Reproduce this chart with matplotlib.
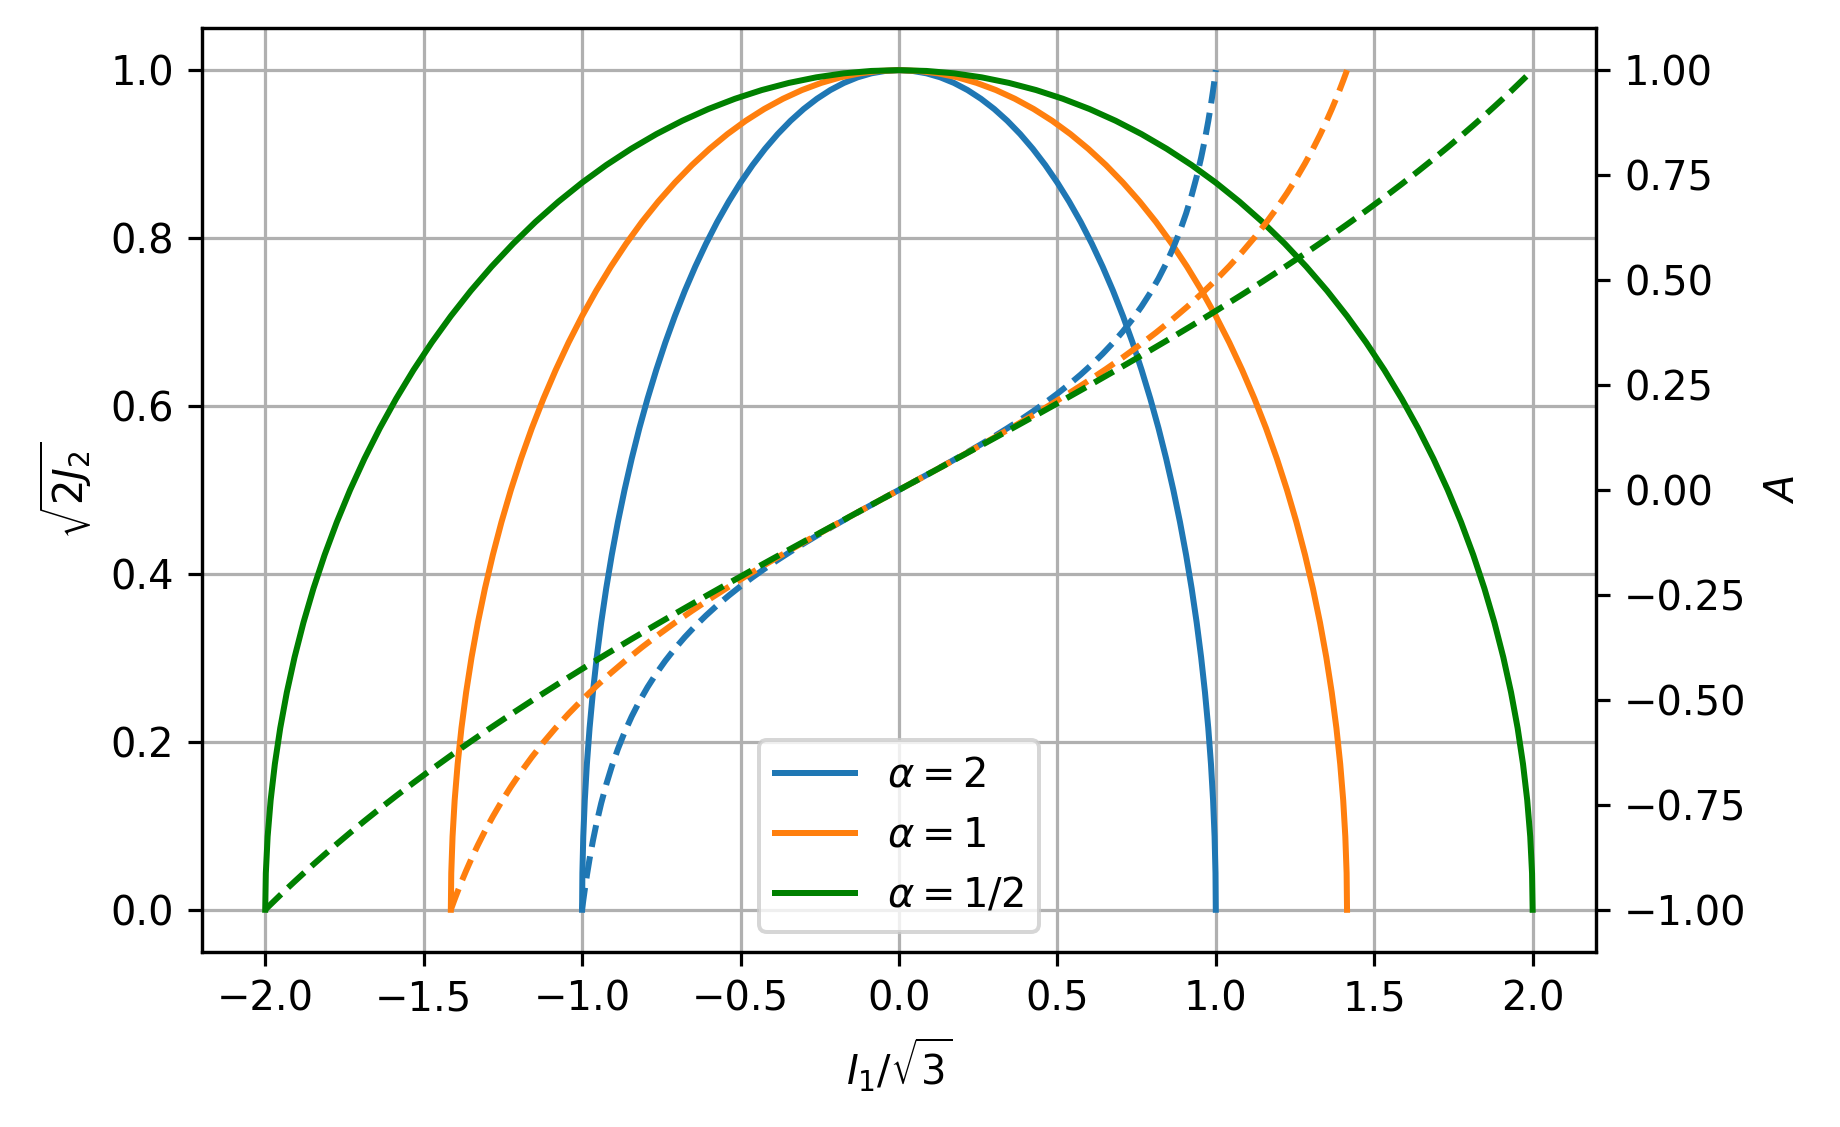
import matplotlib
matplotlib.use("Agg")
from matplotlib import pyplot as plt

alphas = ["2", "1", "1/2"]
colors = ["tab:blue", "tab:orange", "green"]

# sqrt(2 J2) at the sample points (same for every curve)
j2_vals = [0.0, 0.04362, 0.0872, 0.13053, 0.1736, 0.21644, 0.2588, 0.30071, 0.3420,
           0.38268, 0.4226, 0.46175, 0.5000, 0.53730, 0.5736, 0.60876, 0.6428, 0.67559,
           0.7071, 0.73728, 0.7660, 0.79335, 0.8192, 0.84339, 0.8660, 0.88701, 0.9063,
           0.92388, 0.9397, 0.95372, 0.9659, 0.97630, 0.9848, 0.99144, 0.9962, 0.99905,
           1.0,
           0.99905, 0.9962, 0.99144, 0.9848, 0.97630, 0.9659, 0.95372, 0.9397, 0.92388,
           0.9063, 0.88701, 0.8660, 0.84339, 0.8192, 0.79335, 0.7660, 0.73728, 0.7071,
           0.67559, 0.6428, 0.60876, 0.5736, 0.53730, 0.5000, 0.46175, 0.4226, 0.38268,
           0.3420, 0.30071, 0.2588, 0.21644, 0.1736, 0.13053, 0.0872, 0.04362, 0.0]

# I1/sqrt(3)
i1_a2 = [-1.0000, -0.99905, -0.9962, -0.99144, -0.9848, -0.97630, -0.9659, -0.95372, -0.9397,
         -0.92388, -0.9063, -0.88701, -0.8660, -0.84339, -0.8192, -0.79335, -0.7660, -0.73728,
         -0.7071, -0.67559, -0.6428, -0.60876, -0.5736, -0.53730, -0.5000, -0.46175, -0.4226,
         -0.38268, -0.3420, -0.30071, -0.2588, -0.21644, -0.1736, -0.13053, -0.0872, -0.04362,
         0.0,
         0.04362, 0.0872, 0.13053, 0.1736, 0.21644, 0.2588, 0.30071, 0.3420, 0.38268,
         0.4226, 0.46175, 0.5000, 0.53730, 0.5736, 0.60876, 0.6428, 0.67559, 0.7071,
         0.73728, 0.7660, 0.79335, 0.8192, 0.84339, 0.8660, 0.88701, 0.9063, 0.92388,
         0.9397, 0.95372, 0.9659, 0.97630, 0.9848, 0.99144, 0.9962, 0.99905, 1.0000]
i1_a1 = [-1.4142, -1.41287, -1.4088, -1.40211, -1.3927, -1.38069, -1.3660, -1.34876, -1.3289,
         -1.30656, -1.2817, -1.25442, -1.2247, -1.19273, -1.1585, -1.12197, -1.0833, -1.04267,
         -1.0000, -0.95543, -0.9091, -0.86092, -0.8112, -0.75986, -0.7071, -0.65301, -0.5976,
         -0.54119, -0.4837, -0.42527, -0.3660, -0.30609, -0.2455, -0.18460, -0.1233, -0.06169,
         0.0,
         0.06169, 0.1233, 0.18460, 0.2455, 0.30609, 0.3660, 0.42527, 0.4837, 0.54119,
         0.5976, 0.65301, 0.7071, 0.75986, 0.8112, 0.86092, 0.9091, 0.95543, 1.0000,
         1.04267, 1.0833, 1.12197, 1.1585, 1.19273, 1.2247, 1.25442, 1.2817, 1.30656,
         1.3289, 1.34876, 1.3660, 1.38069, 1.3927, 1.40211, 1.4088, 1.41287, 1.4142]
i1_a05 = [-2.0000, -1.99810, -1.9924, -1.98288, -1.9696, -1.95260, -1.9319, -1.90744, -1.8794,
          -1.84776, -1.8126, -1.77402, -1.7321, -1.68678, -1.6383, -1.58670, -1.5321, -1.47456,
          -1.4142, -1.35118, -1.2856, -1.21752, -1.1472, -1.07460, -1.0000, -0.92350, -0.8452,
          -0.76536, -0.6840, -0.60142, -0.5176, -0.43288, -0.3473, -0.26106, -0.1743, -0.08724,
          0.0,
          0.08724, 0.1743, 0.26106, 0.3473, 0.43288, 0.5176, 0.60142, 0.6840, 0.76536,
          0.8452, 0.92350, 1.0000, 1.07460, 1.1472, 1.21752, 1.2856, 1.35118, 1.4142,
          1.47456, 1.5321, 1.58670, 1.6383, 1.68678, 1.7321, 1.77402, 1.8126, 1.84776,
          1.8794, 1.90744, 1.9319, 1.95260, 1.9696, 1.98288, 1.9924, 1.99810, 2.0000]

# A (right axis, dashed)
A_a2 = [-1.0000, -0.99433, -0.9778, -0.95174, -0.9180, -0.87879, -0.8360, -0.79144, -0.7464,
        -0.70196, -0.6587, -0.61710, -0.5774, -0.53954, -0.5037, -0.46970, -0.4375, -0.40696,
        -0.3780, -0.35038, -0.3241, -0.29894, -0.2748, -0.25171, -0.2294, -0.20788, -0.1870,
        -0.16674, -0.1470, -0.12767, -0.1087, -0.09014, -0.0718, -0.05367, -0.0357, -0.01782,
        0.0,
        0.01782, 0.0357, 0.05367, 0.0718, 0.09014, 0.1087, 0.12767, 0.1470, 0.16674,
        0.1870, 0.20788, 0.2294, 0.25171, 0.2748, 0.29894, 0.3241, 0.35038, 0.3780,
        0.40696, 0.4375, 0.46970, 0.5037, 0.53954, 0.5774, 0.61710, 0.6587, 0.70196,
        0.7464, 0.79144, 0.8360, 0.87879, 0.9180, 0.95174, 0.9778, 0.99433, 1.0000]
A_a1 = [-1.0000, -0.99715, -0.9887, -0.97497, -0.9564, -0.93354, -0.9071, -0.87765, -0.8459,
        -0.81252, -0.7780, -0.74269, -0.7071, -0.67152, -0.6362, -0.60124, -0.5668, -0.53308,
        -0.5000, -0.46763, -0.4360, -0.40505, -0.3748, -0.34520, -0.3162, -0.28783, -0.2600,
        -0.23259, -0.2056, -0.17909, -0.1529, -0.12696, -0.1013, -0.07579, -0.0504, -0.02520,
        0.0,
        0.02520, 0.0504, 0.07579, 0.1013, 0.12696, 0.1529, 0.17909, 0.2056, 0.23259,
        0.2600, 0.28783, 0.3162, 0.34520, 0.3748, 0.40505, 0.4360, 0.46763, 0.5000,
        0.53308, 0.5668, 0.60124, 0.6362, 0.67152, 0.7071, 0.74269, 0.7780, 0.81252,
        0.8459, 0.87765, 0.9071, 0.93354, 0.9564, 0.97497, 0.9887, 0.99715, 1.0000]
A_a05 = [-1.0000, -0.99857, -0.9943, -0.98725, -0.9775, -0.96506, -0.9501, -0.93286, -0.9134,
         -0.89180, -0.8684, -0.84320, -0.8165, -0.78841, -0.7591, -0.72871, -0.6974, -0.66527,
         -0.6325, -0.59907, -0.5652, -0.53092, -0.4963, -0.46147, -0.4264, -0.39118, -0.3558,
         -0.32038, -0.2849, -0.24931, -0.2137, -0.17812, -0.1425, -0.10688, -0.0713, -0.03563,
         0.0,
         0.03563, 0.0713, 0.10688, 0.1425, 0.17812, 0.2137, 0.24931, 0.2849, 0.32038,
         0.3558, 0.39118, 0.4264, 0.46147, 0.4963, 0.53092, 0.5652, 0.59907, 0.6325,
         0.66527, 0.6974, 0.72871, 0.7591, 0.78841, 0.8165, 0.84320, 0.8684, 0.89180,
         0.9134, 0.93286, 0.9501, 0.96506, 0.9775, 0.98725, 0.9943, 0.99857, 1.0000]

i1_list = [i1_a2, i1_a1, i1_a05]
A_list = [A_a2, A_a1, A_a05]
for xs, A in zip(i1_list, A_list):
    assert len(xs) == len(j2_vals) == len(A)

fig = plt.figure(figsize=(1840 / 288, 1127 / 288), dpi=288)
ax = fig.add_axes([0.1097, 0.1555, 0.7577, 0.8195])
ax2 = ax.twinx()

for a, c, xs in zip(alphas, colors, i1_list):
    ax.plot(xs, j2_vals, color=c, label=r'$\alpha = %s$' % a)
for c, xs, A in zip(colors, i1_list, A_list):
    ax2.plot(xs, A, color=c, linestyle='--')

ax.set_xlim(-2.2, 2.2)
ax.set_ylim(-0.05, 1.05)
ax2.set_ylim(-1.1, 1.1)
ax.set_xlabel(r'$I_1/\sqrt{3}$')
ax.set_ylabel(r'$\sqrt{2J_2}$')
ax2.set_ylabel(r'$A$')
ax.grid(True)
ax.legend(loc='lower center')

fig.savefig("out.png", dpi=288)
